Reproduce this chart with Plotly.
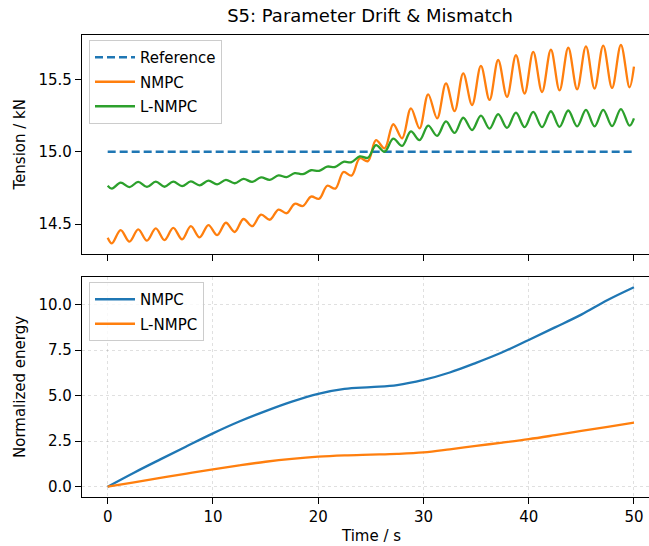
import plotly.graph_objects as go

# ---------------- data ----------------
# top panel: times of start, alternating troughs/peaks, end
t_tension = [0.00, 0.40, 1.23, 2.07, 2.90, 3.73, 4.57, 5.40, 6.23, 7.07, 7.90, 8.73, 9.57, 10.40,
             11.23, 12.07, 12.90, 13.73, 14.57, 15.40, 16.23, 17.00, 17.77, 18.55, 19.32, 20.09,
             20.86, 21.63, 22.40, 23.17, 23.95, 24.72, 25.49, 26.31, 27.13, 27.97, 28.81, 29.63,
             30.45, 31.30, 32.14, 32.96, 33.78, 34.62, 35.46, 36.28, 37.10, 37.94, 38.79, 39.61,
             40.43, 41.27, 42.11, 42.93, 43.76, 44.60, 45.44, 46.26, 47.08, 47.92, 48.76, 49.58, 50.00]

nmpc_tension = [14.405, 14.366, 14.458, 14.378, 14.463, 14.385, 14.470, 14.389, 14.474, 14.394,
                14.486, 14.408, 14.493, 14.424, 14.509, 14.445, 14.535, 14.485, 14.565, 14.530,
                14.600, 14.575, 14.640, 14.625, 14.690, 14.675, 14.765, 14.745, 14.860, 14.835,
                14.955, 14.935, 15.080, 15.023, 15.190, 15.093, 15.300, 15.162, 15.397, 15.231,
                15.473, 15.281, 15.542, 15.323, 15.593, 15.358, 15.634, 15.380, 15.667, 15.402,
                15.690, 15.413, 15.705, 15.424, 15.719, 15.432, 15.728, 15.437, 15.734, 15.441,
                15.738, 15.445, 15.588]

lnmpc_tension = [14.765, 14.745, 14.786, 14.755, 14.792, 14.757, 14.793, 14.758, 14.793, 14.762,
                 14.795, 14.768, 14.800, 14.775, 14.805, 14.782, 14.812, 14.792, 14.822, 14.806,
                 14.836, 14.825, 14.852, 14.845, 14.872, 14.868, 14.897, 14.895, 14.930, 14.928,
                 14.968, 14.958, 15.045, 15.000, 15.090, 15.040, 15.140, 15.080, 15.180, 15.110,
                 15.210, 15.130, 15.235, 15.150, 15.250, 15.160, 15.260, 15.165, 15.270, 15.170,
                 15.275, 15.170, 15.280, 15.172, 15.285, 15.175, 15.290, 15.175, 15.290, 15.177,
                 15.295, 15.180, 15.231]

t_reference = [0.0, 50.0]
reference_tension = [15.0, 15.0]

# bottom panel
t_energy = [0.0, 2.5, 5.0, 7.5, 10.0, 12.5, 15.0, 17.5, 20.0, 22.5, 25.0,
            27.5, 30.0, 32.5, 35.0, 37.5, 40.0, 42.5, 45.0, 47.5, 50.0]
nmpc_energy = [0.0, 0.77, 1.50, 2.22, 2.93, 3.58, 4.15, 4.67, 5.10, 5.37, 5.47,
               5.58, 5.86, 6.27, 6.80, 7.38, 8.06, 8.75, 9.45, 10.25, 10.95]
lnmpc_energy = [0.0, 0.24, 0.48, 0.72, 0.95, 1.17, 1.37, 1.53, 1.65, 1.72, 1.76,
                1.80, 1.88, 2.05, 2.24, 2.42, 2.61, 2.83, 3.06, 3.29, 3.52]

x_ticks = [0, 10, 20, 30, 40, 50]
top_y_ticks = [14.5, 15.0, 15.5]
bottom_y_ticks = [0.0, 2.5, 5.0, 7.5, 10.0]

# ---------------- figure ----------------
BLUE, ORANGE, GREEN = "#1f77b4", "#ff7f0e", "#2ca02c"
FONT = "DejaVu Sans"
W, H = 649, 546
L = 82

fig = go.Figure()
fig.add_trace(go.Scatter(x=t_reference, y=reference_tension, mode="lines", name="Reference",
                         line=dict(color=BLUE, width=2.3, dash="8px,4px"), legendgroup="a",
                         xaxis="x", yaxis="y", legend="legend"))
fig.add_trace(go.Scatter(x=t_tension, y=nmpc_tension, mode="lines", name="NMPC",
                         line=dict(color=ORANGE, width=2.3, shape="spline"), legendgroup="b",
                         xaxis="x", yaxis="y", legend="legend"))
fig.add_trace(go.Scatter(x=t_tension, y=lnmpc_tension, mode="lines", name="L-NMPC",
                         line=dict(color=GREEN, width=2.3, shape="spline"), legendgroup="c",
                         xaxis="x", yaxis="y", legend="legend"))
fig.add_trace(go.Scatter(x=t_energy, y=nmpc_energy, mode="lines", name="NMPC",
                         line=dict(color=BLUE, width=2.3, shape="spline"), legendgroup="d",
                         xaxis="x2", yaxis="y2", legend="legend2"))
fig.add_trace(go.Scatter(x=t_energy, y=lnmpc_energy, mode="lines", name="L-NMPC",
                         line=dict(color=ORANGE, width=2.3, shape="spline"), legendgroup="e",
                         xaxis="x2", yaxis="y2", legend="legend2"))

def py(p):
    return 1 - p / H

def px(p):
    return (p - L) / (W - L)

axis_common = dict(showline=True, linecolor="black", linewidth=1.2, ticks="outside",
                   ticklen=6, tickwidth=1.2, tickcolor="black", zeroline=False,
                   tickfont=dict(family=FONT, size=15, color="black"))

legend_common = dict(xanchor="left", yanchor="top", xref="paper", yref="paper",
                     bgcolor="rgba(255,255,255,0.8)", bordercolor="#cccccc", borderwidth=1,
                     font=dict(family=FONT, size=15, color="black"), itemwidth=40,
                     tracegroupgap=2)

xr = [-2.44, 51.43]
fig.update_layout(
    width=W, height=H,
    margin=dict(l=L, r=0, t=0, b=0),
    paper_bgcolor="white", plot_bgcolor="white",
    font=dict(family=FONT, size=15, color="black"),
    title=dict(text="S5: Parameter Drift & Mismatch", x=370 / W, xref="container", xanchor="center",
               y=py(16), yref="container", yanchor="middle",
               font=dict(family=FONT, size=18, color="black")),
    xaxis=dict(domain=[0, 1], anchor="y", range=xr, tickvals=x_ticks, showticklabels=False,
               mirror=True, showgrid=False, matches="x2", **axis_common),
    yaxis=dict(domain=[py(254), py(35)], anchor="x", range=[14.293, 15.807], tickvals=top_y_ticks,
               ticktext=["14.5", "15.0", "15.5"], showgrid=False, mirror=False, **axis_common),
    xaxis2=dict(domain=[0, 1], anchor="y2", range=xr, tickvals=x_ticks, mirror=True,
                showgrid=True, gridcolor="rgba(0,0,0,0.12)", gridwidth=0.8, griddash="3px,3px",
                **axis_common),
    yaxis2=dict(domain=[py(496.7), py(277.3)], anchor="x2", range=[-0.55, 11.5],
                tickvals=bottom_y_ticks, ticktext=["0.0", "2.5", "5.0", "7.5", "10.0"],
                showgrid=True, gridcolor="rgba(0,0,0,0.12)", gridwidth=0.8, griddash="3px,3px",
                mirror=False, **axis_common),
    legend=dict(x=px(89), y=py(40), **legend_common),
    legend2=dict(x=px(89), y=py(282), **legend_common),
    showlegend=True,
    annotations=[
        dict(text="Tension / kN", x=px(20), y=py(144.5), xref="paper", yref="paper",
             showarrow=False, textangle=-90, xanchor="center", yanchor="middle",
             font=dict(family=FONT, size=15, color="black")),
        dict(text="Normalized energy", x=px(20), y=py(387), xref="paper", yref="paper",
             showarrow=False, textangle=-90, xanchor="center", yanchor="middle",
             font=dict(family=FONT, size=15, color="black")),
        dict(text="Time / s", x=px(371), y=py(536), xref="paper", yref="paper",
             showarrow=False, xanchor="center", yanchor="middle",
             font=dict(family=FONT, size=15, color="black")),
    ],
)

fig.write_html("out.html")
